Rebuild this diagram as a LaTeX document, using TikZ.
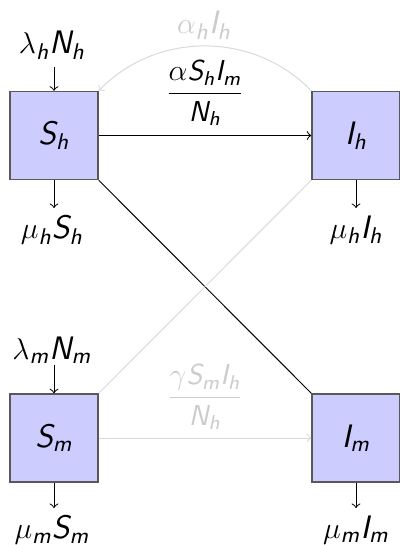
\documentclass[tikz,border=0pt]{standalone}
\usepackage{amsmath}
\newcommand\V[1]{\text{\sffamily\itshape #1}}
\tikzset{
  box/.style={draw=black!65, line width=0.6pt, fill=blue!20, minimum size=35.2pt, inner sep=0pt, font=\fontsize{13}{15}\selectfont},
  lbl/.style={inner sep=0pt, font=\fontsize{13}{15}\selectfont},
  frac/.style={inner sep=0pt, font=\fontsize{11.5}{14}\selectfont},
  faint/.style={draw=black!15},
}
\begin{document}
\begin{tikzpicture}[x=0.4pt,y=-0.4pt, >=to]
\useasboundingbox (0,0) rectangle (399,545);
% boxes
\node[box] (Sh) at (54,135.5) {$\V{S}_{\V{h}}$};
\node[box] (Ih) at (356,135.5) {$\V{I}_{\V{h}}$};
\node[box] (Sm) at (54,438) {$\V{S}_{\V{m}}$};
\node[box] (Im) at (356,438) {$\V{I}_{\V{m}}$};
% inflow / outflow labels
\node[lbl] (lh) at (52,45) {$\lambda_{\V{h}}\V{N}_{\V{h}}$};
\coordinate (lhe) at (54,67);
\node[lbl] (msh) at (52,230) {$\mu_{\V{h}}\V{S}_{\V{h}}$};
\coordinate (mshe) at (54,208);
\node[lbl] (mih) at (356,230) {$\mu_{\V{h}}\V{I}_{\V{h}}$};
\coordinate (mihe) at (356,208);
\node[lbl] (lm) at (52,350) {$\lambda_{\V{m}}\V{N}_{\V{m}}$};
\coordinate (lme) at (54,365);
\node[lbl] (msm) at (52,530) {$\mu_{\V{m}}\V{S}_{\V{m}}$};
\coordinate (msme) at (54,508);
\node[lbl] (mim) at (356,530) {$\mu_{\V{m}}\V{I}_{\V{m}}$};
\coordinate (mime) at (356,508);
\draw[->] (lhe) -- (Sh.north);
\draw[->] (Sh.south) -- (mshe);
\draw[->] (Ih.south) -- (mihe);
\draw[->] (lme) -- (Sm.north);
\draw[->] (Sm.south) -- (msme);
\draw[->] (Im.south) -- (mime);
% transmission
\draw[->] (Sh) -- (Ih);
\node[frac] (fr1) at (205,93) {$\dfrac{\alpha\V{S}_{\V{h}}\V{I}_{\V{m}}}{\V{N}_{\V{h}}}$};
\draw[->, faint] (Ih.north west) to[bend right=46] (Sh.north east);
\node[lbl, text=black!20] (ret) at (204,25) {$\alpha_{\V{h}}\V{I}_{\V{h}}$};
\draw[->, faint] (Sm) -- (Im);
\node[frac, text=black!20] (fr2) at (205,397) {$\dfrac{\gamma\V{S}_{\V{m}}\V{I}_{\V{h}}}{\V{N}_{\V{h}}}$};
\draw (Sh.south east) -- (Im.north west);
\draw[faint] (Sm.north east) -- (Ih.south west);
\end{tikzpicture}
\end{document}
